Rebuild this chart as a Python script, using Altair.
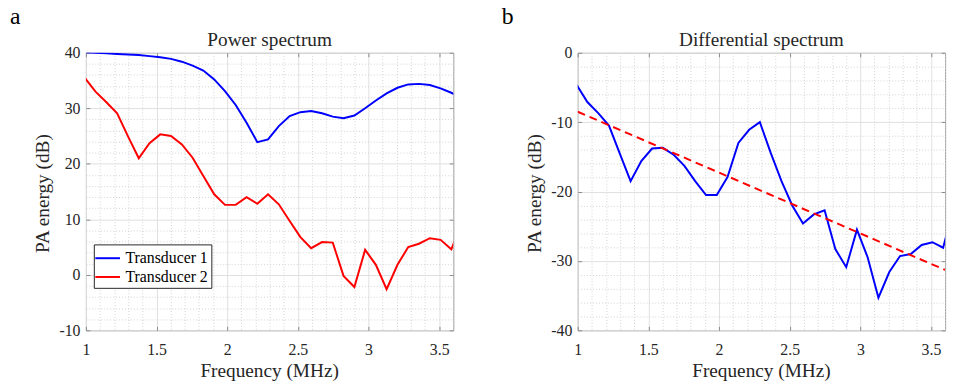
import altair as alt
import pandas as pd

# ---------------- data ----------------
freq = [0.992, 1.068, 1.145, 1.221, 1.297, 1.374, 1.450, 1.526, 1.602, 1.679,
        1.755, 1.831, 1.908, 1.984, 2.060, 2.137, 2.213, 2.289, 2.365, 2.442,
        2.518, 2.594, 2.671, 2.747, 2.823, 2.900, 2.976, 3.052, 3.128, 3.205,
        3.281, 3.357, 3.434, 3.510, 3.586, 3.663]

transducer1 = [40.1, 40.0, 39.9, 39.8, 39.7, 39.6, 39.4, 39.2, 38.9, 38.4,
               37.7, 36.8, 35.2, 33.1, 30.6, 27.4, 23.9, 24.4, 26.8, 28.6,
               29.3, 29.5, 29.1, 28.5, 28.2, 28.7, 30.0, 31.4, 32.7, 33.7,
               34.3, 34.4, 34.2, 33.6, 32.8, 31.8]

transducer2 = [35.5, 33.0, 31.1, 29.1, 25.0, 21.0, 23.7, 25.3, 25.0, 23.5,
               21.1, 17.8, 14.5, 12.6, 12.6, 14.0, 12.8, 14.5, 12.7, 9.7,
               6.8, 4.8, 5.9, 5.8, -0.2, -2.2, 4.5, 1.8, -2.6, 1.8,
               5.0, 5.6, 6.6, 6.3, 4.6, 9.5]

differential = [-4.6, -7.1, -8.7, -10.5, -14.5, -18.5, -15.6, -13.8, -13.7, -14.7,
                -16.3, -18.5, -20.5, -20.5, -17.9, -13.0, -11.1, -10.0, -14.4, -18.5,
                -22.0, -24.6, -23.3, -22.7, -28.3, -30.9, -25.5, -29.5, -35.3, -31.6,
                -29.3, -29.0, -27.7, -27.3, -28.1, -22.0]

fit_freq = [1.0, 3.6]
fit_values = [-8.5, -31.3]

series_names = ["Transducer 1", "Transducer 2"]
series_colors = ["#0000ff", "#ff0000"]

x_major = [1, 1.5, 2, 2.5, 3, 3.5]
x_minor = [1.1, 1.2, 1.3, 1.4, 1.6, 1.7, 1.8, 1.9, 2.1, 2.2, 2.3, 2.4, 2.6, 2.7,
           2.8, 2.9, 3.1, 3.2, 3.3, 3.4, 3.6]
ya_major = [-10, 0, 10, 20, 30, 40]
ya_minor = [-8, -6, -4, -2, 2, 4, 6, 8, 12, 14, 16, 18, 22, 24, 26, 28, 32, 34, 36, 38]
yb_major = [-40, -30, -20, -10, 0]
yb_minor = [-38, -36, -34, -32, -28, -26, -24, -22, -18, -16, -14, -12, -8, -6, -4, -2]

# ---------------- styling ----------------
FONT = "Liberation Serif"
TXT = "#262626"
W, H = 372, 281
TICK = dict(grid=False, labels=False, domain=False, ticks=True, tickSize=4,
            tickColor="#8a8a8a", title=None)


def text_layer(txt, x, y, size, angle=0, align="left", color=TXT):
    kw = dict(font=FONT, fontSize=size, color=color, align=align, baseline="alphabetic")
    if angle:
        kw["angle"] = angle
    return alt.Chart(pd.DataFrame({"t": [txt]})).mark_text(**kw).encode(
        text="t:N", x=alt.value(x), y=alt.value(y))


def panel(df_lines, ydom, ymajor, yminor, title, letter, color_enc, extra, bounds):
    xs = alt.Scale(domain=[1, 3.6], nice=False, zero=False)
    ys = alt.Scale(domain=ydom, nice=False, zero=False)

    def minor_ax(vals, orient):
        return alt.Axis(values=vals, orient=orient, grid=True, gridColor="#d2d2d2",
                        gridDash=[1, 2], gridWidth=1, labels=False, ticks=False,
                        domain=False, title=None)

    def main_ax(vals, orient, pad):
        return alt.Axis(values=vals, orient=orient, grid=True, gridColor="#e0e0e0",
                        gridWidth=1, labels=True, ticks=False, domain=False, title=None,
                        labelFont=FONT, labelFontSize=16, labelColor=TXT,
                        labelExpr="datum.value", labelFlush=False, labelPadding=pad)

    base = alt.Chart(df_lines)
    minor = base.mark_line(opacity=0).encode(
        x=alt.X("f:Q", scale=xs, axis=minor_ax(x_minor, "bottom")),
        y=alt.Y("v:Q", scale=ys, axis=minor_ax(yminor, "left")))
    enc = dict(x=alt.X("f:Q", scale=xs, axis=main_ax(x_major, "bottom", 11)),
               y=alt.Y("v:Q", scale=ys, axis=main_ax(ymajor, "left", 6)))
    if color_enc is not None:
        enc["color"] = color_enc
        main = base.mark_line(strokeWidth=2, clip=True).encode(**enc)
    else:
        main = base.mark_line(strokeWidth=2, clip=True, color=series_colors[0]).encode(**enc)
    # inside ticks: bottom & left
    ticks1 = base.mark_line(opacity=0).encode(
        x=alt.X("f:Q", scale=xs, axis=alt.Axis(values=x_major, orient="top", offset=-H, **TICK)),
        y=alt.Y("v:Q", scale=ys, axis=alt.Axis(values=ymajor, orient="right", offset=-W, **TICK)))
    # inside ticks: top & right
    ticks2 = base.mark_line(opacity=0).encode(
        x=alt.X("f:Q", scale=xs, axis=alt.Axis(values=x_major, orient="bottom", offset=-H, **TICK)),
        y=alt.Y("v:Q", scale=ys, axis=alt.Axis(values=ymajor, orient="left", offset=-W, **TICK)))

    layers = [minor, main, ticks1, ticks2]
    if extra is not None:
        layers.append(extra(xs, ys))
    layers += [
        text_layer(title, W / 2, -6.5, 19.5, align="center"),
        text_layer(letter, -77, -29.3, 24, color="#000000"),
        text_layer("PA energy (dB)", -37.7, 142.5, 19.5, angle=270, align="center"),
        text_layer("Frequency (MHz)", W / 2, 328, 19.5, align="center"),
        alt.Chart(pd.DataFrame({"z": [0]})).mark_rule(opacity=0, strokeWidth=0).encode(
            x=alt.value(bounds[0]), x2=alt.value(bounds[1]),
            y=alt.value(-50), y2=alt.value(339)),
    ]
    return alt.layer(*layers).resolve_axis(x="independent", y="independent").properties(
        width=W, height=H)


df_a = pd.DataFrame({
    "f": freq + freq,
    "v": transducer1 + transducer2,
    "s": [series_names[0]] * len(freq) + [series_names[1]] * len(freq),
})
df_b = pd.DataFrame({"f": freq, "v": differential})
df_fit = pd.DataFrame({"f": fit_freq, "v": fit_values})

color_enc = alt.Color("s:N", scale=alt.Scale(domain=series_names, range=series_colors),
                      legend=alt.Legend(orient="none", legendX=8, legendY=194, title=None,
                                        symbolType="M-1.25,0H1.25", symbolSize=400,
                                        symbolStrokeWidth=2, labelFont=FONT,
                                        labelFontSize=16, labelColor="#000000",
                                        fillColor="white", strokeColor="#262626",
                                        padding=3, rowPadding=-2, labelOffset=7))


def fit_layer(xs, ys):
    return alt.Chart(df_fit).mark_line(color="#ff0000", strokeWidth=2,
                                       strokeDash=[8, 5], clip=True).encode(
        x=alt.X("f:Q", scale=xs, axis=None), y=alt.Y("v:Q", scale=ys, axis=None))


left = panel(df_a, [-10, 40], ya_major, ya_minor, "Power spectrum", "a", color_enc,
             None, (-86, 414))
right = panel(df_b, [-40, 0], yb_major, yb_minor, "Differential spectrum", "b", None,
              fit_layer, (-82, 373))

chart = alt.hconcat(left, right, spacing=0).properties(
    padding=0, background="white"
).configure_view(stroke="#9a9a9a", strokeWidth=1)

chart.save("out.html", embed_options={"renderer": "svg", "actions": False})
